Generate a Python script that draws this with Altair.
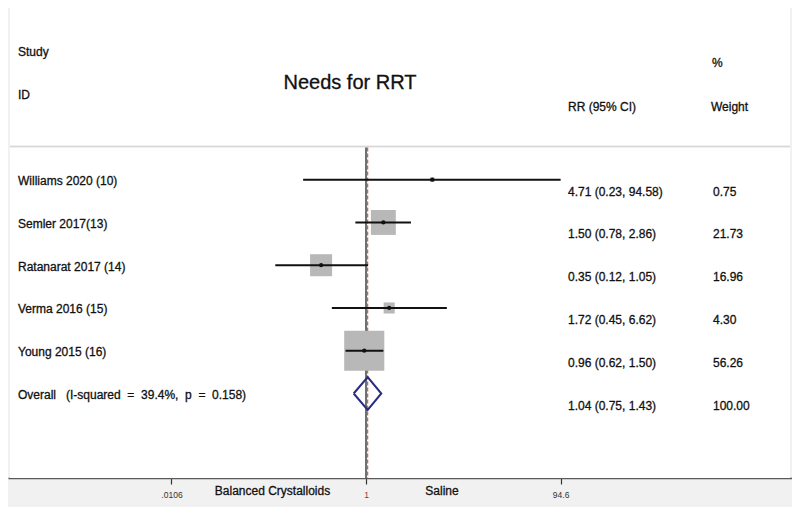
import altair as alt
import pandas as pd

# ---------------- data ----------------
studies = ["Williams 2020 (10)", "Semler 2017(13)", "Ratanarat 2017 (14)",
           "Verma 2016 (15)", "Young 2015 (16)"]
rr = [4.71, 1.50, 0.35, 1.72, 0.96]
ci_lo = [0.23, 0.78, 0.12, 0.45, 0.62]
ci_hi = [94.58, 2.86, 1.05, 6.62, 1.50]
weights = [0.75, 21.73, 16.96, 4.30, 56.26]
rr_text = ["4.71 (0.23, 94.58)", "1.50 (0.78, 2.86)", "0.35 (0.12, 1.05)",
           "1.72 (0.45, 6.62)", "0.96 (0.62, 1.50)"]
weight_text = ["0.75", "21.73", "16.96", "4.30", "56.26"]

NB = "\u00a0"
overall_label = ("Overall" + NB * 3 + "(I-squared" + NB * 2 + "=" + NB * 2 + "39.4%,"
                 + NB * 2 + "p" + NB * 2 + "=" + NB * 2 + "0.158)")
overall_rr = 1.04
overall_lo = 0.75
overall_hi = 1.43
overall_rr_text = "1.04 (0.75, 1.43)"
overall_weight_text = "100.00"

tick_values = [0.0106, 1, 94.6]
tick_labels = [".0106", "1", "94.6"]
null_value = 1

# ---------------- tables ----------------
n = len(studies)
df = pd.DataFrame({
    "row": list(range(n)),
    "study": studies,
    "rr": rr,
    "lo": ci_lo,
    "hi": ci_hi,
    "w": weights,
    "size": [28.6 * w for w in weights],
})
txt = pd.DataFrame({
    "row": list(range(n + 1)),
    "label": studies + [overall_label],
    "rrtxt": rr_text + [overall_rr_text],
    "wtxt": weight_text + [overall_weight_text],
})
half_h = 0.386
diamond = pd.DataFrame({
    "x": [overall_lo, overall_rr, overall_hi, overall_rr, overall_lo],
    "y": [n, n - half_h, n, n + half_h, n],
    "o": [0, 1, 2, 3, 4],
})
vlines = pd.DataFrame({"v": [null_value]})
olines = pd.DataFrame({"v": [overall_rr]})
one = pd.DataFrame({"a": [0]})

# ---------------- scales ----------------
label_expr = "datum.value < 0.1 ? '%s' : (datum.value < 10 ? '%s' : '%s')" % tuple(tick_labels)
xscale = alt.Scale(type="log", domain=[2.320e-4, 21125], nice=False, zero=False)
xaxis = alt.Axis(values=tick_values, labelExpr=label_expr, title=None, grid=False,
                 domainColor="#5a5a5a", domainWidth=1.5, tickColor="#333333",
                 tickSize=6, tickWidth=1.2, labelFontSize=8.5, labelFont="Liberation Sans",
                 labelColor={"condition": {"test": "datum.value == 1", "value": "#8e3434"},
                             "value": "#333333"},
                 labelPadding=6, labelFlush=False, labelOverlap=False)
yscale = alt.Scale(domain=[-4.0154, 6.976], reverse=True, nice=False, zero=False)


def X(f):
    return alt.X(f, type="quantitative", scale=xscale, axis=xaxis)


def Y(f):
    return alt.Y(f, type="quantitative", scale=yscale, axis=None)


FONT = "Liberation Sans"
TXT = "#111111"
TSTROKE = dict(stroke="#111111", strokeWidth=0.3)

# ---------------- layers ----------------
header_bg = alt.Chart(one).mark_rect(color="white").encode(
    x=alt.value(2), x2=alt.value(782), y=alt.value(0), y2=alt.value(137.5))
body_bg = alt.Chart(one).mark_rect(color="white").encode(
    x=alt.value(2), x2=alt.value(782), y=alt.value(139.5), y2=alt.value(470))
sep = alt.Chart(one).mark_rule(color="#d8d8d8", strokeWidth=1.5).encode(
    x=alt.value(2), x2=alt.value(782), y=alt.value(138.5))

null_line = alt.Chart(vlines).mark_rule(color="#111111", strokeWidth=1.2).encode(
    x=X("v"), y=alt.value(139.5), y2=alt.value(470))
overall_line = alt.Chart(olines).mark_rule(color="#c0504d", strokeWidth=1.1,
                                           strokeDash=[4, 2]).encode(
    x=X("v"), y=alt.value(139.5), y2=alt.value(470))

squares = alt.Chart(df).mark_point(shape="square", filled=True, color="#b8b8b8",
                                   opacity=1).encode(
    x=X("rr"), y=Y("row"), size=alt.Size("size:Q", scale=None, legend=None))
ci = alt.Chart(df).mark_rule(color="#111111", strokeWidth=2).encode(
    x=X("lo"), x2="hi", y=Y("row"))
pts = alt.Chart(df).mark_point(shape="circle", filled=True, color="#111111",
                               size=18, opacity=1).encode(x=X("rr"), y=Y("row"))
dia = alt.Chart(diamond).mark_line(color="#2a2c84", strokeWidth=2).encode(
    x=X("x"), y=Y("y"), order="o:Q")

labels = alt.Chart(txt).mark_text(align="left", baseline="middle", font=FONT,
                                  fontSize=12, color=TXT, dy=1.5, **TSTROKE).encode(
    x=alt.value(10), y=Y("row"), text="label:N")
rr_col = alt.Chart(txt).mark_text(align="left", baseline="middle", font=FONT,
                                  fontSize=12, color=TXT, dy=12, **TSTROKE).encode(
    x=alt.value(560), y=Y("row"), text="rrtxt:N")
w_col = alt.Chart(txt).mark_text(align="left", baseline="middle", font=FONT,
                                 fontSize=12, color=TXT, dy=12, **TSTROKE).encode(
    x=alt.value(705), y=Y("row"), text="wtxt:N")


def header(text, x, y, size=12, align="left"):
    return alt.Chart(one).mark_text(text=text, align=align, baseline="middle",
                                    font=FONT, fontSize=size, color=TXT, **TSTROKE).encode(
        x=alt.value(x), y=alt.value(y))


heads = [
    header("Study", 10, 44),
    header("ID", 10, 87),
    header("Needs for RRT", 342, 75, size=20, align="center"),
    header("%", 704, 55),
    header("RR (95% CI)", 560, 99),
    header("Weight", 703, 99),
    header("Balanced Crystalloids", 264.5, 483, align="center"),
    header("Saline", 434, 483, align="center"),
]

chart = alt.layer(
    header_bg, body_bg, sep, null_line, overall_line, squares, ci, pts, dia,
    labels, rr_col, w_col, *heads
).properties(
    width=784, height=470,
    padding={"left": 0, "top": 0, "right": 0, "bottom": 29},
    autosize=alt.AutoSizeParams(type="none"),
    background="#f1f1f2",
).configure_view(stroke=None)

chart.save("out.html", embed_options={"renderer": "svg", "actions": False})
